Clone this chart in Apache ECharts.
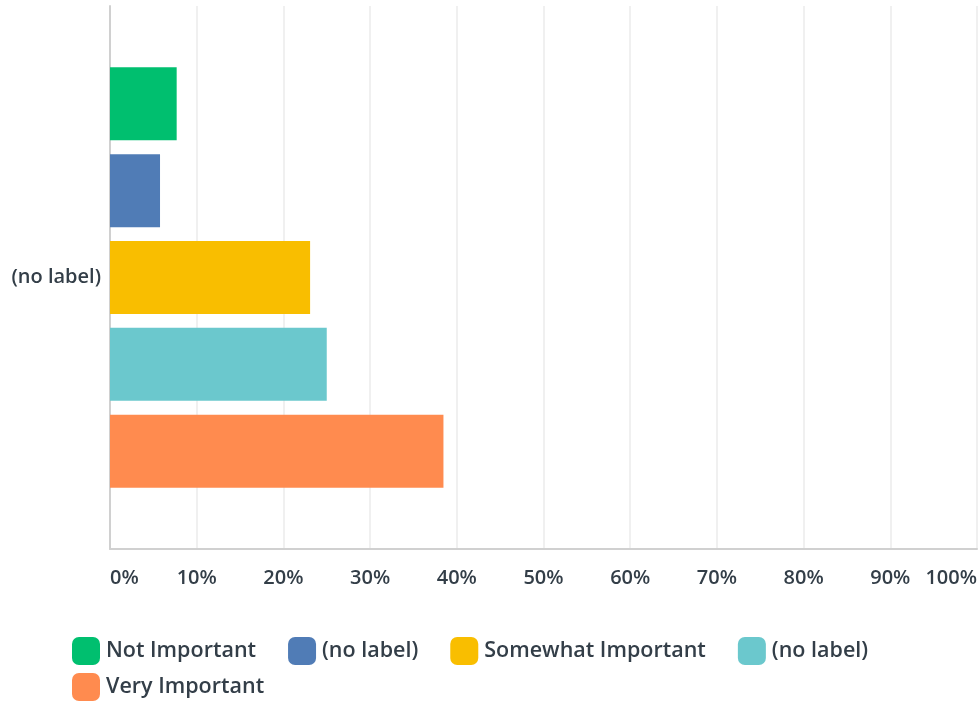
<!DOCTYPE html>
<html>
<head>
<meta charset="utf-8">
<script src="https://cdn.jsdelivr.net/npm/echarts@6/dist/echarts.min.js"></script>
<style>
html,body{margin:0;padding:0;background:#fff;}
#c{width:980px;height:703px;}
</style>
</head>
<body>
<div id="c"></div>
<script>
var categories = ['(no label)'];
var seriesNames = ['Not Important', '(no label)', 'Somewhat Important', '(no label) ', 'Very Important'];
var seriesValues = [[7.69], [5.77], [23.08], [25.0], [38.46]];
var seriesColors = ['#00bf6f', '#507cb6', '#f9be00', '#6bc8cd', '#ff8b4f'];
var xTicks = {min: 0, max: 100, interval: 10};

var textColor = '#333e48';
var fontFamily = '"Open Sans", sans-serif';

var chart = echarts.init(document.getElementById('c'), null, {renderer: 'canvas'});

var series = seriesNames.map(function (n, i) {
  return {
    name: n,
    type: 'bar',
    data: seriesValues[i],
    barWidth: 73,
    barGap: '19%',
    itemStyle: {color: seriesColors[i]},
    emphasis: {disabled: true},
    silent: true
  };
});

function legendItem(i) {
  return {name: seriesNames[i], icon: 'roundRect'};
}

var legendCommon = {
  orient: 'horizontal',
  itemWidth: 28,
  itemHeight: 28,
  itemGap: 32,
  selectedMode: false,
  textStyle: {color: textColor, fontSize: 21.5, fontWeight: 600, fontFamily: fontFamily, padding: [0, 0, 0, 1]},
  padding: 0,
  formatter: function (n) { return n.trim(); }
};

var option = {
  animation: false,
  backgroundColor: '#fff',
  grid: {left: 110, right: 3, top: 6, bottom: 154, containLabel: false},
  legend: [
    Object.assign({}, legendCommon, {left: 72, top: 637, data: [0, 1, 2, 3].map(legendItem)}),
    Object.assign({}, legendCommon, {left: 72, top: 673, data: [4].map(legendItem)})
  ],
  xAxis: {
    type: 'value',
    min: xTicks.min,
    max: xTicks.max,
    interval: xTicks.interval,
    axisLine: {show: true, lineStyle: {color: '#d0d0d0', width: 2}},
    axisTick: {show: false},
    splitLine: {show: true, lineStyle: {color: '#ebebeb', width: 1.5}},
    axisLabel: {
      formatter: '{value}%',
      color: textColor,
      fontSize: 20,
      fontWeight: 600,
      fontFamily: fontFamily,
      margin: 19,
      alignMinLabel: 'left',
      alignMaxLabel: 'right'
    }
  },
  yAxis: {
    type: 'category',
    data: categories,
    inverse: true,
    axisLine: {show: true, lineStyle: {color: '#d0d0d0', width: 2}},
    axisTick: {show: false},
    splitLine: {show: false},
    axisLabel: {
      color: textColor,
      fontSize: 20,
      fontWeight: 600,
      fontFamily: fontFamily,
      margin: 9
    }
  },
  series: series
};

chart.setOption(option);
</script>
</body>
</html>
